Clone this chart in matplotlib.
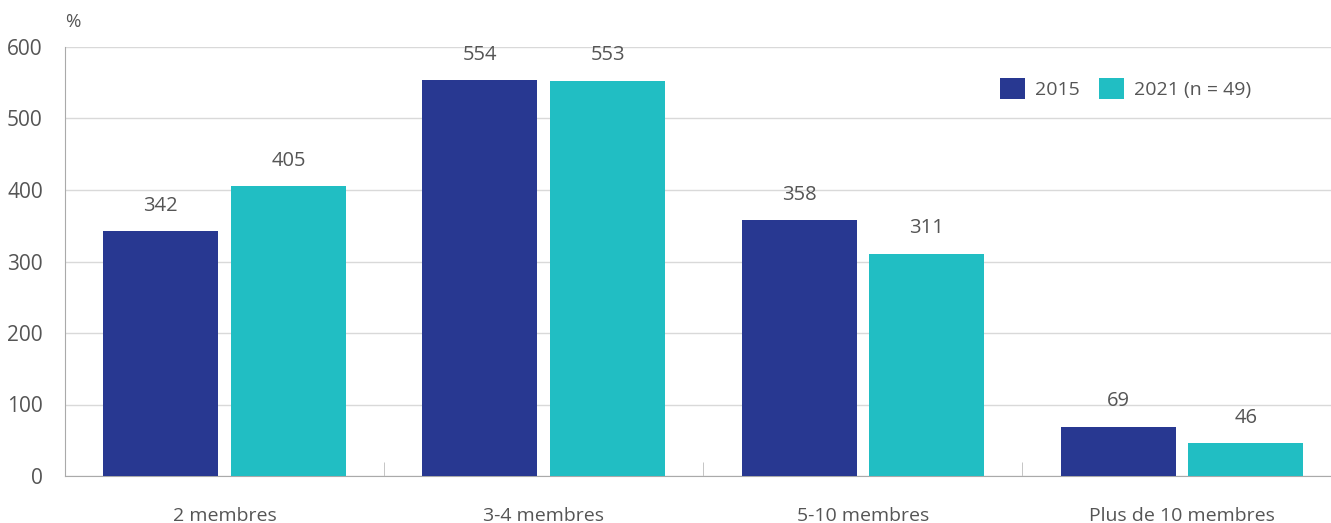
import matplotlib
matplotlib.use("Agg")
from matplotlib import pyplot as plt
import numpy as np

categories = ["2 membres", "3-4 membres", "5-10 membres", "Plus de 10 membres"]
values_2015 = [342, 554, 358, 69]
values_2021 = [405, 553, 311, 46]
series_labels = ["2015", "2021 (n = 49)"]

dark = "#283891"
teal = "#21bec3"
text_col = "#555555"

plt.rcParams["font.family"] = ["Open Sans", "DejaVu Sans"]

fig = plt.figure(figsize=(13.31, 5.23), dpi=100)
ax = fig.add_axes([65 / 1331, 1 - 476 / 523, 1 - 65 / 1331 + 0.008, (476 - 47) / 523])

x = np.arange(len(categories))
w = 0.36
off = 0.2
b1 = ax.bar(x - off, values_2015, w, color=dark, label=series_labels[0], zorder=3)
b2 = ax.bar(x + off, values_2021, w, color=teal, label=series_labels[1], zorder=3)

for bars in (b1, b2):
    for r in bars:
        ax.annotate(f"{r.get_height():.0f}", (r.get_x() + r.get_width() / 2, r.get_height()),
                    xytext=(0, 11), textcoords="offset points", ha="center", va="bottom",
                    fontsize=14.5, color=text_col)

ax.set_xlim(-0.5, 3.5)
ax.set_ylim(0, 600)
ax.set_yticks(range(0, 601, 100))
ax.yaxis.grid(True, color="#d9d9d9", linewidth=1, zorder=0)
ax.set_axisbelow(True)

ax.set_xticks(x)
ax.set_xticklabels(categories)
ax.set_xticks([0.5, 1.5, 2.5], minor=True)
ax.tick_params(axis="x", which="major", length=0, pad=22, labelsize=14, labelcolor=text_col)
ax.tick_params(axis="x", which="minor", direction="in", length=10, color="#bbbbbb")
ax.tick_params(axis="y", length=0, pad=16, labelsize=15, labelcolor=text_col)

for s in ("top", "right"):
    ax.spines[s].set_visible(False)
ax.spines["left"].set_color("#aaaaaa")
ax.spines["bottom"].set_color("#aaaaaa")

fig.text(73 / 1331, 1 - 22 / 523, "%", fontsize=13.5, color=text_col, ha="center", va="center")

ax.legend(loc="upper left", bbox_to_anchor=(982 / 1331, 1 - 60 / 523), bbox_transform=fig.transFigure,
          frameon=False, fontsize=14, labelcolor=text_col, ncol=2, handlelength=1.3, handleheight=1.3,
          columnspacing=1.0, handletextpad=0.5)

fig.savefig("out.png", dpi=100)
